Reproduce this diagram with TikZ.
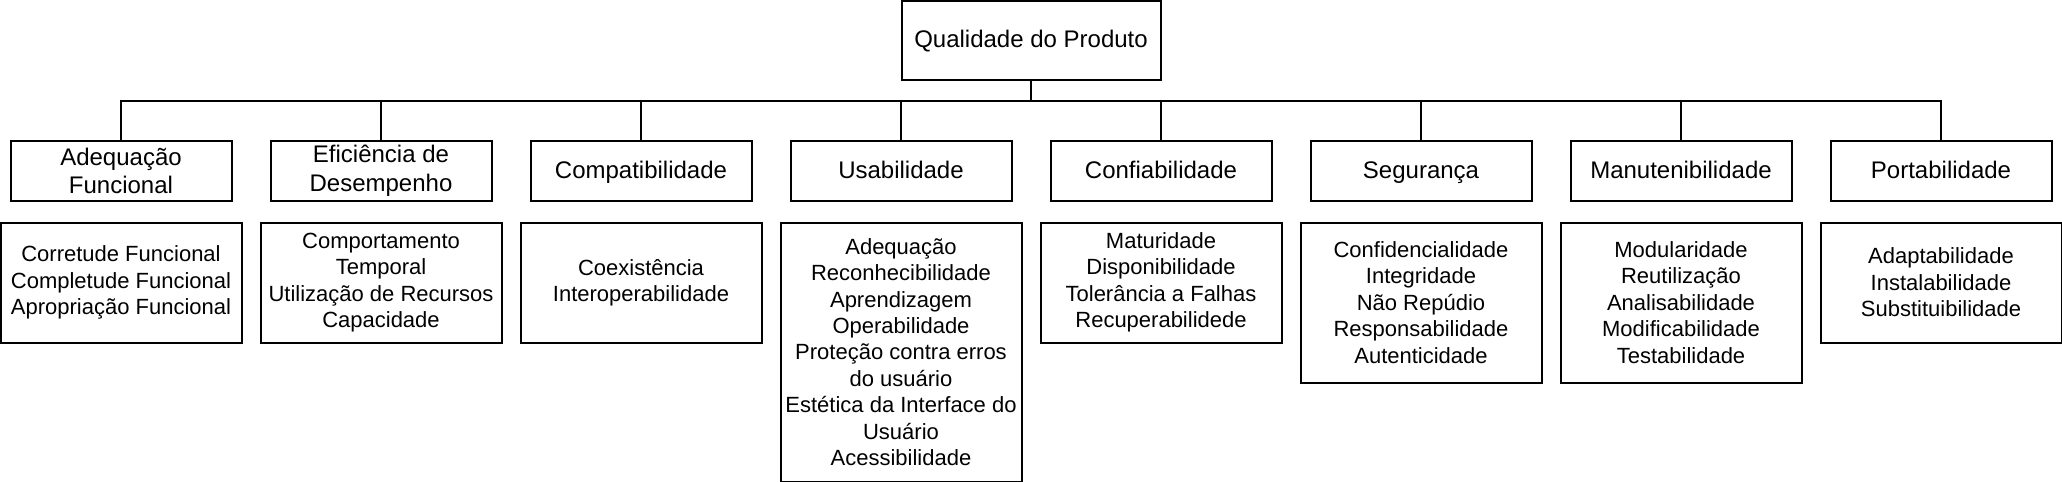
\documentclass[tikz,border=0pt]{standalone}
\usepackage{fontspec}
\setmainfont{Liberation Sans}
\tikzset{
    caixa/.style={draw, line width=1pt, align=center, inner sep=0pt},
    linha/.style={text height=10pt, text depth=2.7pt},
    topo/.style={caixa, linha, minimum width=129.5pt, minimum height=39.5pt, font=\fontsize{12}{14.4}\selectfont},
    categoria/.style={caixa, minimum width=110.5pt, minimum height=30pt, font=\fontsize{12}{14.4}\selectfont},
    detalhe/.style={caixa, anchor=north, minimum width=120.5pt, font=\fontsize{11}{13.2}\selectfont},
    liga/.style={line width=1pt}
}
\begin{document}
\begin{tikzpicture}[x=0.5pt, y=-0.5pt]
    \useasboundingbox (0,0) rectangle (2062,482);

    % raiz
    \node[topo] (raiz) at (1031,40.5) {Qualidade do Produto};
    \coordinate (barra) at (0,100.5);

    % caracteristicas
    \node[categoria] (c1) at (121,171) {Adequação\\Funcional};
    \node[categoria] (c2) at (381,171) {Eficiência de\\Desempenho};
    \node[categoria, linha] (c3) at (641,171) {Compatibilidade};
    \node[categoria, linha] (c4) at (901,171) {Usabilidade};
    \node[categoria, linha] (c5) at (1161,171) {Confiabilidade};
    \node[categoria, linha] (c6) at (1421,171) {Segurança};
    \node[categoria, linha] (c7) at (1681,171) {Manutenibilidade};
    \node[categoria, linha] (c8) at (1941,171) {Portabilidade};

    \foreach \i in {1,...,8}
        \draw[liga] (raiz.south) -- (raiz.south |- barra) -| (c\i.north);

    % subcaracteristicas
    \node[detalhe, minimum height=60pt] (d1) at (121,221.5)
        {Corretude Funcional\\Completude Funcional\\Apropriação Funcional};
    \node[detalhe, minimum height=60pt] (d2) at (381,221.5)
        {Comportamento\\Temporal\\Utilização de Recursos\\Capacidade};
    \node[detalhe, minimum height=60pt] (d3) at (641,221.5)
        {Coexistência\\Interoperabilidade};
    \node[detalhe, minimum height=129.5pt] (d4) at (901,221.5)
        {Adequação\\Reconhecibilidade\\Aprendizagem\\Operabilidade\\Proteção contra erros\\do usuário\\Estética da Interface do\\Usuário\\Acessibilidade};
    \node[detalhe, minimum height=60pt] (d5) at (1161,221.5)
        {Maturidade\\Disponibilidade\\Tolerância a Falhas\\Recuperabilidede};
    \node[detalhe, minimum height=80pt] (d6) at (1421,221.5)
        {Confidencialidade\\Integridade\\Não Repúdio\\Responsabilidade\\Autenticidade};
    \node[detalhe, minimum height=80pt] (d7) at (1681,221.5)
        {Modularidade\\Reutilização\\Analisabilidade\\Modificabilidade\\Testabilidade};
    \node[detalhe, minimum height=60pt] (d8) at (1941,221.5)
        {Adaptabilidade\\Instalabilidade\\Substituibilidade};
\end{tikzpicture}
\end{document}
